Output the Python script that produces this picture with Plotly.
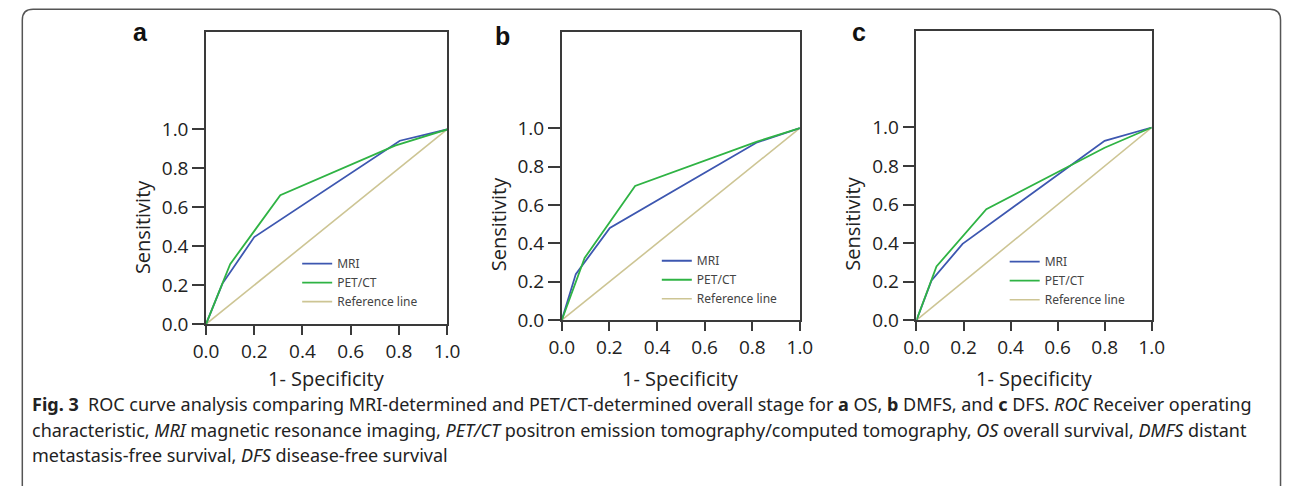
import plotly.graph_objects as go

# ---------------- data ----------------
panels = ["a", "b", "c"]

a_mri_x = [0, 0.068, 0.2, 0.804, 1]
a_mri_y = [0, 0.208, 0.447, 0.942, 1]
a_pet_x = [0, 0.065, 0.1, 0.308, 0.784, 1]
a_pet_y = [0, 0.2, 0.308, 0.662, 0.917, 1]

b_mri_x = [0, 0.059, 0.202, 0.817, 1]
b_mri_y = [0, 0.24, 0.48, 0.924, 1]
b_pet_x = [0, 0.096, 0.308, 0.82, 1]
b_pet_y = [0, 0.324, 0.699, 0.93, 1]

c_mri_x = [0, 0.064, 0.196, 0.8, 1]
c_mri_y = [0, 0.206, 0.396, 0.931, 1]
c_pet_x = [0, 0.085, 0.297, 0.8, 1]
c_pet_y = [0, 0.279, 0.576, 0.895, 1]

ref_x = [0, 1]
ref_y = [0, 1]

tick_vals = [0, 0.2, 0.4, 0.6, 0.8, 1.0]
tick_text = ["0.0", "0.2", "0.4", "0.6", "0.8", "1.0"]

series_names = ["MRI", "PET/CT", "Reference line"]
x_title = "1- Specificity"
y_title = "Sensitivity"

caption_lines = [
    "<b>Fig. 3</b>\u00a0\u00a0ROC curve analysis comparing MRI-determined and PET/CT-determined overall stage for "
    "<b>a</b> OS, <b>b</b> DMFS, and <b>c</b> DFS. <i>ROC</i> Receiver operating",
    "characteristic, <i>MRI</i> magnetic resonance imaging, <i>PET/CT</i> positron emission tomography/computed "
    "tomography, <i>OS</i> overall survival, <i>DMFS</i> distant",
    "metastasis-free survival, <i>DFS</i> disease-free survival",
]

# ---------------- layout geometry (pixels) ----------------
W, H = 1295, 486
def px(x):
    return x / W
def py(y):
    return 1 - y / H

boxes = {  # left, right, top, bottom
    "a": (197, 443, 33, 333),
    "b": (560, 803, 33, 329),
    "c": (922, 1162, 32, 329),
}
ytitle_x = {"a": 132, "b": 495, "c": 857}
letter_pos = {"a": (130, 33), "b": (500, 37), "c": (863, 33)}
legend_pos = {"a": (290, 256), "b": (657, 253), "c": (1012, 254)}

C_MRI = "#3d57b0"
C_PET = "#2fb344"
C_REF = "#cdc594"
AX = "#3a3a3a"
TICK_FONT = dict(family="Open Sans, Noto Sans, sans-serif", size=19, color="#222")

data = {
    "a": (a_mri_x, a_mri_y, a_pet_x, a_pet_y),
    "b": (b_mri_x, b_mri_y, b_pet_x, b_pet_y),
    "c": (c_mri_x, c_mri_y, c_pet_x, c_pet_y),
}

fig = go.Figure()
annotations = []
layout_axes = {}
legends = {}

for i, p in enumerate(panels):
    n = "" if i == 0 else str(i + 1)
    xa, ya = "x" + n, "y" + n
    lg = "legend" + n
    mx, my, qx, qy = data[p]
    fig.add_trace(go.Scatter(x=ref_x, y=ref_y, mode="lines", name=series_names[2],
                             line=dict(color=C_REF, width=1.6), xaxis=xa, yaxis=ya,
                             legend=lg, legendrank=3))
    fig.add_trace(go.Scatter(x=mx, y=my, mode="lines", name=series_names[0],
                             line=dict(color=C_MRI, width=1.8), xaxis=xa, yaxis=ya,
                             legend=lg, legendrank=1))
    fig.add_trace(go.Scatter(x=qx, y=qy, mode="lines", name=series_names[1],
                             line=dict(color=C_PET, width=1.8), xaxis=xa, yaxis=ya,
                             legend=lg, legendrank=2))

    l, r, t, b = boxes[p]
    common = dict(showline=True, mirror=True, linecolor=AX, linewidth=1.5,
                  ticks="outside", tickcolor=AX, tickwidth=1.5, showgrid=False,
                  zeroline=False, tickvals=tick_vals, ticktext=tick_text,
                  tickfont=TICK_FONT, fixedrange=True)
    layout_axes["xaxis" + n] = dict(common, domain=[px(l), px(r)], range=[0, 1],
                                    anchor=ya, ticklen=9)
    layout_axes["yaxis" + n] = dict(common, domain=[py(b), py(t)], range=[0, 1.5],
                                    anchor=xa, ticklen=12)

    lx, ly = legend_pos[p]
    legends[lg] = dict(x=px(lx), y=py(ly), xanchor="left", yanchor="top",
                       bgcolor="rgba(0,0,0,0)", borderwidth=0, itemwidth=30,
                       font=dict(family="Noto Sans, sans-serif", size=12, color="#444"),
                       traceorder="normal", tracegroupgap=0)

    # axis titles
    annotations.append(dict(text=y_title, textangle=-90, xref="paper", x=px(ytitle_x[p]),
                            yref=ya, y=0.5, showarrow=False,
                            xanchor="center", yanchor="middle",
                            font=dict(family="Open Sans, Noto Sans, sans-serif", size=20, color="#222")))
    annotations.append(dict(text=x_title, xref=xa + " domain", x=0.5, yref="paper",
                            y=py(389), showarrow=False, xanchor="center", yanchor="middle",
                            font=dict(family="Open Sans, Noto Sans, sans-serif", size=20, color="#222")))
    # panel letter
    lx2, ly2 = letter_pos[p]
    annotations.append(dict(text="<b>%s</b>" % p, xref="paper", yref="paper", x=px(lx2),
                            y=py(ly2), showarrow=False, xanchor="center", yanchor="middle",
                            font=dict(family="Liberation Sans, Arial, sans-serif", size=25, color="#111")))

# caption
for k, (line, yy) in enumerate(zip(caption_lines, [415, 442, 468])):
    annotations.append(dict(text=line, xref="paper", yref="paper", x=px(17), y=py(yy),
                            xanchor="left", yanchor="middle", showarrow=False, align="left",
                            font=dict(family="Noto Sans, sans-serif", size=18, color="#222")))

# rounded frame
r = 11
x0, x1, y0 = 9.5, 1293.5, 9.5
frame_path = ("M {a},{yb} L {a},{t1} Q {a},{t0} {a2},{t0} L {b2},{t0} Q {b},{t0} {b},{t1} L {b},{yb}"
              .format(a=px(x0), a2=px(x0 + r), b=px(x1), b2=px(x1 - r),
                      t0=py(y0), t1=py(y0 + r), yb=-0.05))

fig.update_layout(
    width=W, height=H, margin=dict(l=0, r=0, t=0, b=0),
    paper_bgcolor="white", plot_bgcolor="white",
    showlegend=True, annotations=annotations,
    shapes=[dict(type="path", path=frame_path, xref="paper", yref="paper",
                 line=dict(color="#555", width=1.5))],
    **layout_axes, **legends,
)

fig.write_html("out.html", config={"displayModeBar": False},
               post_script="document.body.style.margin='0';document.body.style.overflow='hidden';")
